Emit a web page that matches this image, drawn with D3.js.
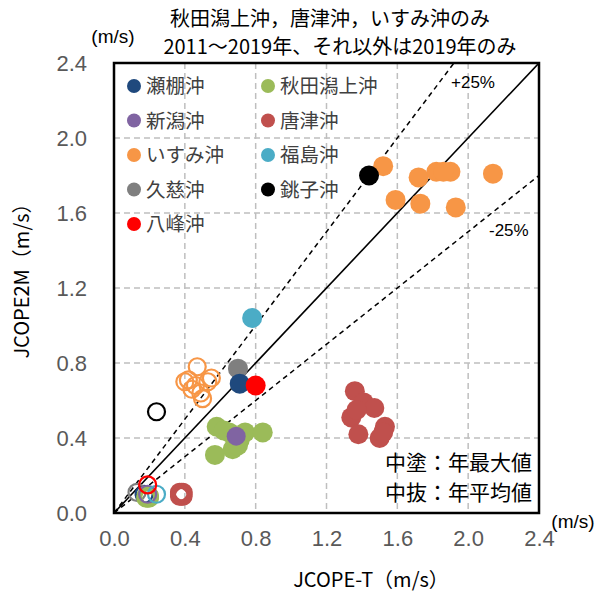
<!DOCTYPE html>
<html>
<head>
<meta charset="utf-8">
<script src="https://cdn.jsdelivr.net/npm/d3@7"></script>
<style>
  body { margin: 0; background: #fff; }
  text { font-family: "Liberation Sans", Arial, sans-serif; }
  .jp { font-family: "Noto Sans CJK JP", "Noto Sans", sans-serif; }
</style>
</head>
<body>
<svg id="chart" width="599" height="596"></svg>
<script>
// Sites and their colours
const sites = ["瀬棚沖", "秋田潟上沖", "新潟沖", "唐津沖", "いすみ沖", "福島沖", "久慈沖", "銚子沖", "八峰沖"];
const colors = ["#1F497D", "#9BBB59", "#8064A2", "#C0504D", "#F79646", "#4BACC6", "#7F7F7F", "#000000", "#FF0000"];

// Annual maximum (filled) : [JCOPE-T, JCOPE2M]
const maxSetona = [[0.71, 0.69]];
const maxAkita = [[0.58, 0.46], [0.74, 0.43], [0.84, 0.43], [0.57, 0.31], [0.67, 0.34], [0.71, 0.39], [0.65, 0.43], [0.62, 0.44], [0.70, 0.36]];
const maxNiigata = [[0.69, 0.41]];
const maxKaratsu = [[1.36, 0.65], [1.41, 0.59], [1.47, 0.56], [1.34, 0.51], [1.38, 0.42], [1.53, 0.46], [1.50, 0.40], [1.37, 0.55], [1.52, 0.43]];
const maxIsumi = [[1.52, 1.85], [1.59, 1.67], [1.72, 1.79], [1.82, 1.82], [1.90, 1.82], [1.73, 1.65], [1.93, 1.63], [2.14, 1.81], [1.86, 1.82]];
const maxFukushima = [[0.78, 1.04]];
const maxKuji = [[0.70, 0.77]];
const maxChoshi = [[1.44, 1.80]];
const maxHappou = [[0.80, 0.68]];

// Annual mean (open)
const meanSetona = [[0.17, 0.10]];
const meanAkita = [[0.19, 0.08], [0.20, 0.09], [0.18, 0.08], [0.19, 0.09], [0.20, 0.08], [0.18, 0.09], [0.19, 0.08], [0.20, 0.09], [0.19, 0.09]];
const meanNiigata = [[0.19, 0.10]];
const meanKaratsu = [[0.37, 0.11], [0.38, 0.10], [0.39, 0.11], [0.38, 0.09], [0.37, 0.10], [0.39, 0.10], [0.38, 0.11], [0.37, 0.09], [0.39, 0.09]];
const meanIsumi = [[0.47, 0.78], [0.42, 0.71], [0.53, 0.70], [0.46, 0.68], [0.49, 0.64], [0.44, 0.66], [0.50, 0.61], [0.40, 0.70], [0.55, 0.72]];
const meanFukushima = [[0.24, 0.10]];
const meanKuji = [[0.13, 0.11]];
const meanChoshi = [[0.24, 0.54]];
const meanHappou = [[0.19, 0.15]];

const maxSeries = [maxSetona, maxAkita, maxNiigata, maxKaratsu, maxIsumi, maxFukushima, maxKuji, maxChoshi, maxHappou];
const meanSeries = [meanSetona, meanAkita, meanNiigata, meanKaratsu, meanIsumi, meanFukushima, meanKuji, meanChoshi, meanHappou];
// draw order for the mean rings (bottom to top)
const meanOrder = [0, 6, 1, 2, 5, 3, 4, 7, 8];

const tickValues = [0, 0.4, 0.8, 1.2, 1.6, 2.0, 2.4];
const ratioLines = [1.25, 1.0, 0.75];

const svg = d3.select("#chart");
const pLeft = 114, pRight = 539, pTop = 63, pBottom = 513;
const x = d3.scaleLinear().domain([0, 2.4]).range([pLeft, pRight]);
const y = d3.scaleLinear().domain([0, 2.4]).range([pBottom, pTop]);

const defs = svg.append("defs");
defs.append("clipPath").attr("id", "plotClip")
  .append("rect").attr("x", pLeft).attr("y", pTop).attr("width", pRight - pLeft).attr("height", pBottom - pTop);

// grid
const grid = svg.append("g");
grid.selectAll(".gx").data(tickValues.slice(1, -1)).join("line")
  .attr("x1", d => x(d)).attr("x2", d => x(d)).attr("y1", pTop).attr("y2", pBottom)
  .attr("stroke", "#BFBFBF").attr("stroke-width", 1.5).attr("stroke-dasharray", "6,4");
grid.selectAll(".gy").data(tickValues.slice(1, -1)).join("line")
  .attr("y1", d => y(d)).attr("y2", d => y(d)).attr("x1", pLeft).attr("x2", pRight)
  .attr("stroke", "#BFBFBF").attr("stroke-width", 1.5).attr("stroke-dasharray", "6,4");

// ratio lines
const lines = svg.append("g").attr("clip-path", "url(#plotClip)");
ratioLines.forEach(r => {
  lines.append("line")
    .attr("x1", x(0)).attr("y1", y(0)).attr("x2", x(2.4)).attr("y2", y(2.4 * r))
    .attr("stroke", "#000").attr("stroke-width", r === 1 ? 1.6 : 1.5)
    .attr("stroke-dasharray", r === 1 ? null : "5,4");
});

// mean rings
const pts = svg.append("g");
meanOrder.forEach(i => {
  pts.selectAll(null).data(meanSeries[i]).join("circle")
    .attr("cx", d => x(d[0])).attr("cy", d => y(d[1])).attr("r", 8.5)
    .attr("fill", "none").attr("stroke", colors[i]).attr("stroke-width", 2.2);
});
// max dots
const maxOrder = [1, 2, 3, 4, 5, 6, 0, 8, 7];
maxOrder.forEach(i => {
  pts.selectAll(null).data(maxSeries[i]).join("circle")
    .attr("cx", d => x(d[0])).attr("cy", d => y(d[1])).attr("r", i === 2 ? 9.5 : 10)
    .attr("fill", colors[i]);
});

// frame
svg.append("rect").attr("x", pLeft).attr("y", pTop).attr("width", pRight - pLeft).attr("height", pBottom - pTop)
  .attr("fill", "none").attr("stroke", "#000").attr("stroke-width", 2.5);

// axes
const xAxis = svg.append("g").attr("transform", `translate(0,${pBottom})`)
  .call(d3.axisBottom(x).tickValues(tickValues).tickFormat(d3.format(".1f")).tickSize(0).tickPadding(22));
const yAxis = svg.append("g").attr("transform", `translate(${pLeft},0)`)
  .call(d3.axisLeft(y).tickValues(tickValues).tickFormat(d3.format(".1f")).tickSize(0).tickPadding(27));
[xAxis, yAxis].forEach(a => {
  a.select(".domain").remove();
  a.selectAll("text").attr("font-size", 22).attr("fill", "#595959")
    .attr("font-family", "Liberation Sans, Arial, sans-serif");
});
xAxis.selectAll("text").attr("dy", "0.5em");

// legend
const legend = svg.append("g").attr("class", "jp");
sites.forEach((s, i) => {
  const col = i % 2, row = Math.floor(i / 2);
  const lx = pLeft + 20 + col * 134, ly = 86 + row * 34.5;
  legend.append("circle").attr("cx", lx).attr("cy", ly).attr("r", 7).attr("fill", colors[i]);
  legend.append("text").attr("class", "jp").attr("x", lx + 12).attr("y", ly).attr("dy", "0.36em")
    .attr("font-size", 19.5).attr("fill", "#404040").text(s);
});

// ratio labels
svg.append("text").attr("x", 451).attr("y", 88).attr("font-size", 17).attr("fill", "#000").text("+25%");
svg.append("text").attr("x", 489).attr("y", 236).attr("font-size", 17).attr("fill", "#000").text("-25%");

// notes
svg.append("text").attr("class", "jp").attr("x", 532).attr("y", 470).attr("text-anchor", "end")
  .attr("font-size", 21).attr("fill", "#000").text("中塗：年最大値");
svg.append("text").attr("class", "jp").attr("x", 532).attr("y", 500).attr("text-anchor", "end")
  .attr("font-size", 21).attr("fill", "#000").text("中抜：年平均値");

// title
svg.append("text").attr("class", "jp").attr("x", 330).attr("y", 26).attr("text-anchor", "middle")
  .attr("font-size", 20).attr("fill", "#000").text("秋田潟上沖，唐津沖，いすみ沖のみ");
svg.append("text").attr("class", "jp").attr("x", 340).attr("y", 54).attr("text-anchor", "middle")
  .attr("font-size", 20).attr("fill", "#000").text("2011～2019年、それ以外は2019年のみ");

// unit labels
svg.append("text").attr("x", 113).attr("y", 43).attr("text-anchor", "middle")
  .attr("font-size", 19).attr("fill", "#000").text("(m/s)");
svg.append("text").attr("x", 573).attr("y", 528).attr("text-anchor", "middle")
  .attr("font-size", 19).attr("fill", "#000").text("(m/s)");

// axis titles
svg.append("text").attr("class", "jp").attr("x", 371).attr("y", 587).attr("text-anchor", "middle")
  .attr("font-size", 20).attr("fill", "#000").text("JCOPE-T（m/s）");
svg.append("text").attr("class", "jp").attr("transform", "translate(29,276) rotate(-90)").attr("text-anchor", "middle")
  .attr("font-size", 20).attr("fill", "#000").text("JCOPE2M（m/s）");
</script>
</body>
</html>
